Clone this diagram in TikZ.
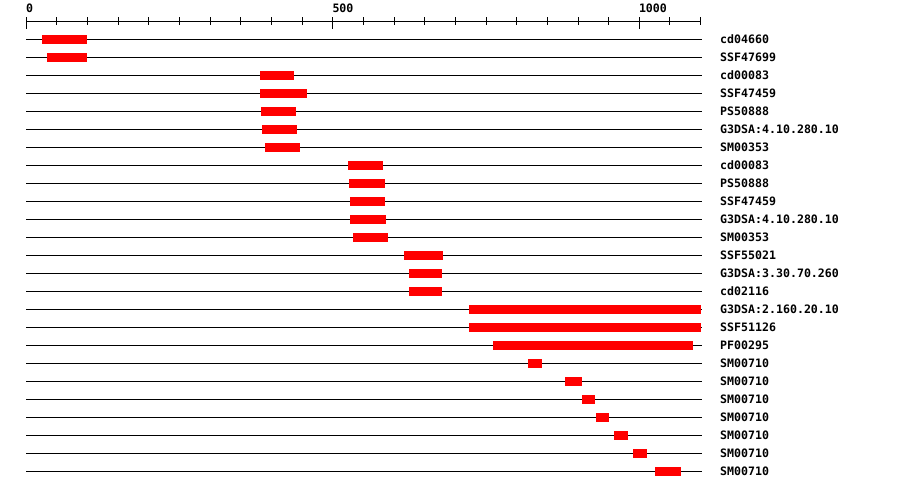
\documentclass[tikz,border=0pt]{standalone}
\usepackage{fontspec}
\newfontfamily\labfont{DejaVu Sans Mono}
\begin{document}
\begin{tikzpicture}[x=1pt,y=-1pt,
  lab/.style={font=\labfont\bfseries\fontsize{11.6}{12}\selectfont, inner sep=0pt, text height=8.3pt, text depth=0pt, anchor=west},
  axlab/.style={font=\labfont\bfseries\fontsize{11.6}{12}\selectfont, inner sep=0pt, anchor=base west},
  track/.style={line width=1pt, black},
  dom/.style={fill=red, draw=none}]
\useasboundingbox (0,0) rectangle (900,490);
% axis
\draw[track] (26.3,21.3) -- (700.6,21.3);
\foreach \i in {0,...,22}{
  \draw[track] ({26.3+30.65*\i},17.3) -- ({26.3+30.65*\i},25.3);
}
\foreach \i in {0,10,20}{
  \draw[track] ({26.3+30.65*\i},17) -- ({26.3+30.65*\i},28.5);
}
\node[axlab] (t0) at (25.8,12.3) {0};
\node[axlab] (t500) at (332.3,12.3) {500};
\node[axlab] (t1000) at (638.8,12.3) {1000};
% rows
\foreach [count=\k] \a/\b/\t in {
  42/87/cd04660,
  47/87/SSF47699,
  260/294/cd00083,
  260/307/SSF47459,
  261/296/PS50888,
  262/297/G3DSA:4.10.280.10,
  265/300/SM00353,
  348/383/cd00083,
  349/385/PS50888,
  350/385/SSF47459,
  350/386/G3DSA:4.10.280.10,
  353/388/SM00353,
  404/443/SSF55021,
  409/442/G3DSA:3.30.70.260,
  409/442/cd02116,
  469/701/G3DSA:2.160.20.10,
  469/701/SSF51126,
  493/693/PF00295,
  528/542/SM00710,
  565/582/SM00710,
  582/595/SM00710,
  596/609/SM00710,
  614/628/SM00710,
  633/647/SM00710,
  655/681/SM00710}{
  \pgfmathsetmacro\yy{39.3+18*(\k-1)}
  \draw[track] (26,\yy) -- (701.5,\yy);
  \fill[dom] (\a,{\yy-4.5}) rectangle (\b,{\yy+4.5});
  \node[lab] (lbl\k) at (720,\yy) {\t};
}
\end{tikzpicture}
\end{document}
